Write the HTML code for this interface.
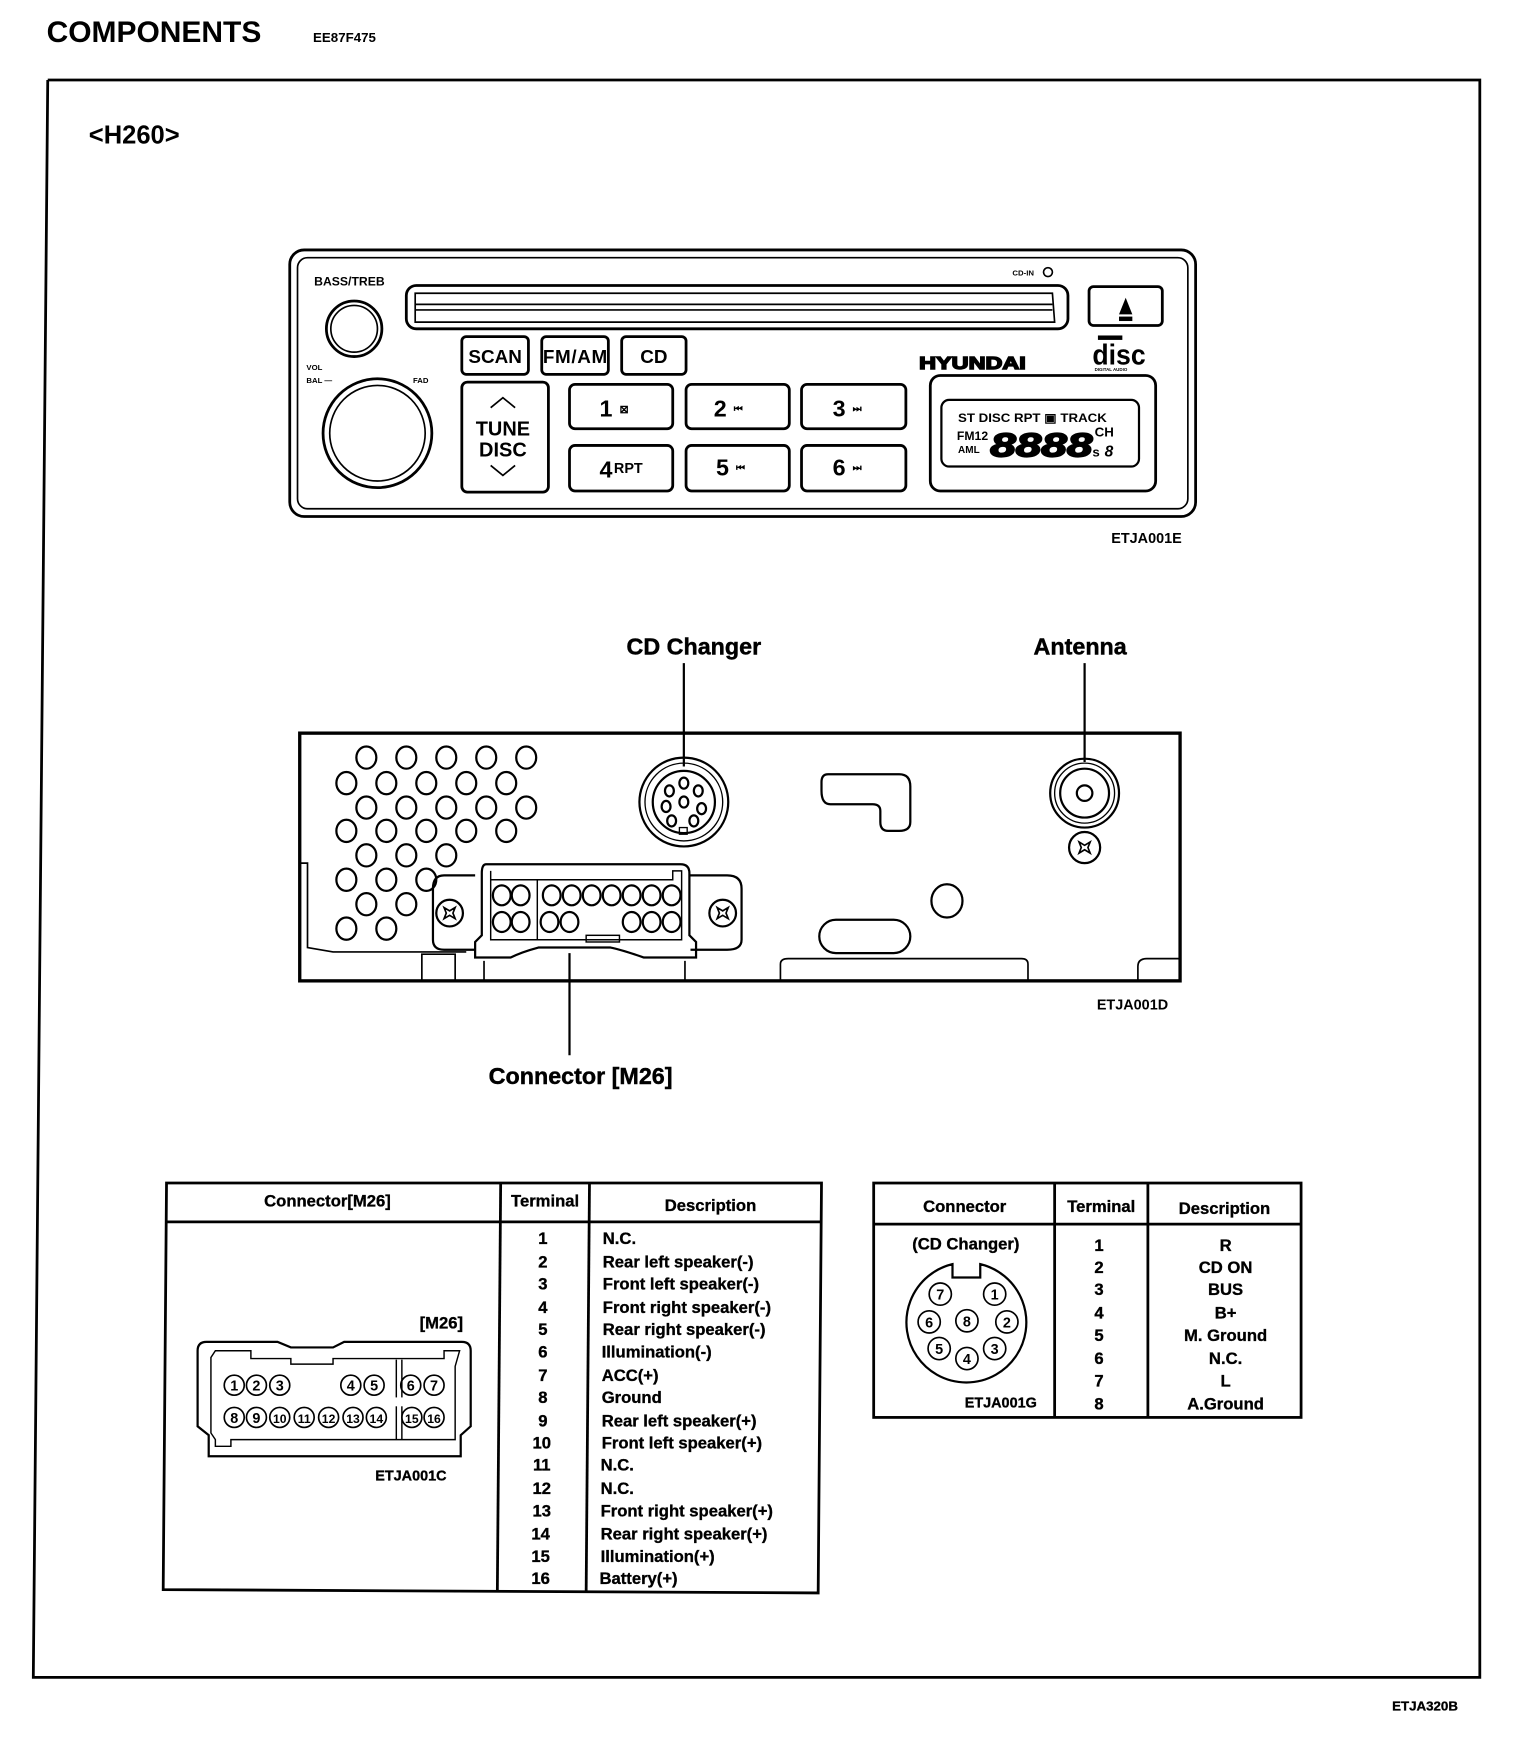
<!DOCTYPE html>
<html><head><meta charset="utf-8"><style>
html,body{margin:0;padding:0;background:#fff;}
svg{display:block;}
text{font-family:"Liberation Sans",Arial,sans-serif;font-weight:bold;fill:#000;}
</style></head><body>
<svg width="1520" height="1742" viewBox="0 0 1369.2 1568.2" preserveAspectRatio="none" xmlns="http://www.w3.org/2000/svg">
<rect x="0" y="0" width="1400" height="1600" fill="#fff"/>
<!-- header -->
<text x="42" y="38" font-size="27">COMPONENTS</text>
<text x="282" y="38" font-size="12">EE87F475</text>
<polyline points="43,72 1333,72 1333,1510 30,1510 43,72" fill="none" stroke="#000" stroke-width="2.5"/>
<text x="80" y="129" font-size="23">&lt;H260&gt;</text>

<!-- radio -->
<g fill="none" stroke="#000" stroke-width="2.5">
<rect x="261" y="225" width="816" height="240" rx="13"/>
<rect x="268" y="232" width="802" height="226" rx="9" stroke-width="1.5"/>
<rect x="366" y="257" width="596" height="39" rx="9"/>
<path d="M374,264 L948,264 L950,290 L374,290 Z" stroke-width="1.5"/>
<line x1="374" y1="274" x2="948" y2="274" stroke-width="1.5"/>
<line x1="374" y1="279" x2="948" y2="279" stroke-width="1.5"/>
<rect x="981" y="258" width="66" height="35" rx="4"/>
<circle cx="319" cy="296" r="25"/>
<circle cx="319" cy="296" r="21" stroke-width="1.5"/>
<circle cx="340" cy="390" r="49"/>
<circle cx="340" cy="390" r="43" stroke-width="1.5"/>
<rect x="416" y="303" width="60" height="34" rx="4"/>
<rect x="488" y="303" width="60" height="34" rx="4"/>
<rect x="560" y="303" width="58" height="34" rx="4"/>
<rect x="416" y="344" width="78" height="99" rx="5"/>
<rect x="513" y="346" width="93" height="40" rx="5"/>
<rect x="618" y="346" width="93" height="40" rx="5"/>
<rect x="722" y="346" width="94" height="40" rx="5"/>
<rect x="513" y="401" width="93" height="41" rx="5"/>
<rect x="618" y="401" width="93" height="41" rx="5"/>
<rect x="722" y="401" width="94" height="41" rx="5"/>
<rect x="838" y="338" width="203" height="104" rx="9"/>
<rect x="848" y="360" width="178" height="60" rx="7" stroke-width="2"/>
<circle cx="944" cy="245" r="4" stroke-width="1.5"/>
<polyline points="442,367 453,358 464,367" stroke-width="1.5"/>
<polyline points="442,419 453,428 464,419" stroke-width="1.5"/>
</g>
<path d="M1008,283 L1014,268 L1020,283 Z" fill="#000"/>
<rect x="1008" y="285" width="12" height="4" fill="#000"/>
<text x="283" y="257" font-size="11">BASS/TREB</text>
<text x="276" y="333" font-size="7">VOL</text>
<text x="276" y="345" font-size="7">BAL —</text>
<text x="372" y="345" font-size="7">FAD</text>
<text x="912" y="248" font-size="7">CD-IN</text>
<text x="446" y="327" font-size="17" font-weight="normal" text-anchor="middle">SCAN</text>
<text x="518" y="327" font-size="17" font-weight="normal" text-anchor="middle" textLength="58">FM/AM</text>
<text x="589" y="327" font-size="17" font-weight="normal" text-anchor="middle">CD</text>
<text x="453" y="392" font-size="18" font-weight="normal" text-anchor="middle">TUNE</text>
<text x="453" y="411" font-size="18" font-weight="normal" text-anchor="middle">DISC</text>
<text x="540" y="375" font-size="21" font-weight="normal">1</text><text x="558" y="372" font-size="10">⊠</text>
<text x="643" y="375" font-size="21" font-weight="normal">2</text><text x="661" y="371" font-size="9">⏮</text>
<text x="750" y="375" font-size="21" font-weight="normal">3</text><text x="768" y="371" font-size="9">⏭</text>
<text x="540" y="430" font-size="21" font-weight="normal">4</text><text x="553" y="426" font-size="13" font-weight="normal">RPT</text>
<text x="645" y="428" font-size="21" font-weight="normal">5</text><text x="663" y="424" font-size="9">⏮</text>
<text x="750" y="428" font-size="21" font-weight="normal">6</text><text x="768" y="424" font-size="9">⏭</text>
<text x="828" y="332" font-size="16" fill="#fff" stroke="#000" stroke-width="1.3" textLength="96" lengthAdjust="spacingAndGlyphs">HYUNDAI</text>
<text x="984" y="328" font-size="26" textLength="48" lengthAdjust="spacingAndGlyphs">disc</text>
<rect x="989" y="302" width="22" height="4" fill="#000"/>
<text x="986" y="334" font-size="4">DIGITAL AUDIO</text>
<text x="863" y="380" font-size="11" textLength="134" lengthAdjust="spacingAndGlyphs">ST DISC RPT ▣ TRACK</text>
<text x="862" y="396" font-size="11">FM12</text>
<text x="863" y="408" font-size="9">AML</text>
<text x="892" y="411" font-size="30" font-style="italic" font-weight="normal" fill="#fff" stroke="#000" stroke-width="1.5" textLength="92" lengthAdjust="spacingAndGlyphs">8888</text>
<text x="986" y="393" font-size="12">CH</text>
<text x="984" y="411" font-size="12">s</text><text x="995" y="411" font-size="14" font-style="italic">8</text>
<text x="1001" y="489" font-size="13">ETJA001E</text>

<!-- labels & leaders -->
<text x="625" y="589" font-size="21" text-anchor="middle" font-weight="normal" stroke="#000" stroke-width="0.4">CD Changer</text>
<text x="973" y="589" font-size="21" text-anchor="middle" font-weight="normal" stroke="#000" stroke-width="0.4">Antenna</text>
<line x1="616" y1="597" x2="616" y2="690" stroke="#000" stroke-width="2"/>
<line x1="977" y1="597" x2="977" y2="686" stroke="#000" stroke-width="2"/>
<line x1="513" y1="858" x2="513" y2="950" stroke="#000" stroke-width="2"/>
<text x="523" y="976" font-size="21" text-anchor="middle" font-weight="normal" stroke="#000" stroke-width="0.4">Connector [M26]</text>

<!-- rear panel -->
<g fill="none" stroke="#000" stroke-width="2">
<rect x="270" y="660" width="793" height="223" stroke-width="3"/>
<g>
<ellipse cx="330" cy="682" rx="9" ry="10"/><ellipse cx="366" cy="682" rx="9" ry="10"/><ellipse cx="402" cy="682" rx="9" ry="10"/><ellipse cx="438" cy="682" rx="9" ry="10"/><ellipse cx="474" cy="682" rx="9" ry="10"/>
<ellipse cx="312" cy="705" rx="9" ry="10"/><ellipse cx="348" cy="705" rx="9" ry="10"/><ellipse cx="384" cy="705" rx="9" ry="10"/><ellipse cx="420" cy="705" rx="9" ry="10"/><ellipse cx="456" cy="705" rx="9" ry="10"/>
<ellipse cx="330" cy="727" rx="9" ry="10"/><ellipse cx="366" cy="727" rx="9" ry="10"/><ellipse cx="402" cy="727" rx="9" ry="10"/><ellipse cx="438" cy="727" rx="9" ry="10"/><ellipse cx="474" cy="727" rx="9" ry="10"/>
<ellipse cx="312" cy="748" rx="9" ry="10"/><ellipse cx="348" cy="748" rx="9" ry="10"/><ellipse cx="384" cy="748" rx="9" ry="10"/><ellipse cx="420" cy="748" rx="9" ry="10"/><ellipse cx="456" cy="748" rx="9" ry="10"/>
<ellipse cx="330" cy="770" rx="9" ry="10"/><ellipse cx="366" cy="770" rx="9" ry="10"/><ellipse cx="402" cy="770" rx="9" ry="10"/>
<ellipse cx="312" cy="792" rx="9" ry="10"/><ellipse cx="348" cy="792" rx="9" ry="10"/><ellipse cx="384" cy="792" rx="9" ry="10"/>
<ellipse cx="330" cy="814" rx="9" ry="10"/><ellipse cx="366" cy="814" rx="9" ry="10"/>
<ellipse cx="312" cy="836" rx="9" ry="10"/><ellipse cx="348" cy="836" rx="9" ry="10"/>
</g>
<circle cx="616" cy="722" r="40"/><circle cx="616" cy="722" r="35" stroke-width="1.2"/><circle cx="616" cy="722" r="28"/>
<ellipse cx="616" cy="705" rx="4" ry="5"/><ellipse cx="603" cy="712" rx="4" ry="5"/><ellipse cx="629" cy="712" rx="4" ry="5"/><ellipse cx="616" cy="722" rx="4" ry="5"/><ellipse cx="600" cy="726" rx="4" ry="5"/><ellipse cx="632" cy="728" rx="4" ry="5"/><ellipse cx="605" cy="739" rx="4" ry="5"/><ellipse cx="625" cy="739" rx="4" ry="5"/>
<rect x="612" y="745" width="7" height="6" stroke-width="1.2"/>
<circle cx="977" cy="714" r="31"/><circle cx="977" cy="714" r="27" stroke-width="1.2"/><circle cx="977" cy="714" r="22"/><circle cx="977" cy="714" r="7"/>
<circle cx="977" cy="763" r="14"/>
<path d="M972,758 l5,3 l5,-3 l-2,5 l2,5 l-5,-3 l-5,3 l2,-5 Z" stroke-width="1.5"/>
<path d="M746,697 L810,697 Q820,697 820,708 L820,740 Q820,748 810,748 L800,748 Q793,748 793,740 L793,730 Q793,724 786,724 L748,724 Q740,724 740,712 L740,704 Q740,697 746,697 Z"/>
<rect x="738" y="828" width="82" height="30" rx="15"/>
<ellipse cx="853" cy="811" rx="14" ry="15"/>
<path d="M400,788 L428,788 M622,788 L655,788 Q668,788 668,800 L668,846 Q668,855 655,855 L622,855 M428,855 L400,855 Q390,855 390,846 L390,800 Q390,788 400,788"/>
<circle cx="405" cy="822" r="12"/><circle cx="651" cy="822" r="12"/>
<path d="M400,817 l5,3 l5,-3 l-2,5 l2,5 l-5,-3 l-5,3 l2,-5 Z M646,817 l5,3 l5,-3 l-2,5 l2,5 l-5,-3 l-5,3 l2,-5 Z" stroke-width="1.5"/>
<path d="M438,778 L613,778 Q621,778 621,786 L621,842 L627,848 L627,862 L580,862 Q560,855 550,853 L485,853 Q470,857 460,862 L428,862 L428,848 L434,842 L434,786 Q434,778 438,778 Z"/>
<path d="M442,784 L442,792 L606,792 L606,784 L614,784 L614,846 L442,846 L442,792" stroke-width="1.3"/>
<line x1="484" y1="792" x2="484" y2="846" stroke-width="1.3"/>
<rect x="528" y="842" width="30" height="6" stroke-width="1.3"/>
<ellipse cx="452" cy="806" rx="8" ry="9"/><ellipse cx="469" cy="806" rx="8" ry="9"/>
<ellipse cx="497" cy="806" rx="8" ry="9"/><ellipse cx="515" cy="806" rx="8" ry="9"/><ellipse cx="533" cy="806" rx="8" ry="9"/><ellipse cx="551" cy="806" rx="8" ry="9"/><ellipse cx="569" cy="806" rx="8" ry="9"/><ellipse cx="587" cy="806" rx="8" ry="9"/><ellipse cx="605" cy="806" rx="8" ry="9"/>
<ellipse cx="452" cy="830" rx="8" ry="9"/><ellipse cx="469" cy="830" rx="8" ry="9"/>
<ellipse cx="495" cy="830" rx="8" ry="9"/><ellipse cx="513" cy="830" rx="8" ry="9"/>
<ellipse cx="569" cy="830" rx="8" ry="9"/><ellipse cx="587" cy="830" rx="8" ry="9"/><ellipse cx="605" cy="830" rx="8" ry="9"/>
<polyline points="270,777 277,777 277,853 300,857 420,857" stroke-width="1.5"/>
<polyline points="380,883 380,859 410,859 410,883" stroke-width="1.5"/>
<line x1="436" y1="865" x2="436" y2="883" stroke-width="1.5"/>
<line x1="617" y1="865" x2="617" y2="883" stroke-width="1.5"/>
<path d="M703,883 L703,868 Q703,863 710,863 L920,863 Q926,863 926,868 L926,883" stroke-width="1.5"/>
<path d="M1025,883 L1025,870 Q1025,863 1033,863 L1063,863" stroke-width="1.5"/>
</g>
<text x="988" y="909" font-size="13">ETJA001D</text>

<!-- left table -->
<g fill="none" stroke="#000" stroke-width="2.5">
<polygon points="150,1065 740,1065 737,1434 147,1431"/>
<line x1="150" y1="1100" x2="740" y2="1100"/>
<line x1="451" y1="1065" x2="448" y2="1432"/>
<line x1="531" y1="1065" x2="528" y2="1433"/>
</g>
<text x="295" y="1086" font-size="15" text-anchor="middle" font-weight="normal" stroke="#000" stroke-width="0.3">Connector[M26]</text>
<text x="491" y="1086" font-size="15" text-anchor="middle" font-weight="normal" stroke="#000" stroke-width="0.3">Terminal</text>
<text x="640" y="1090" font-size="15" text-anchor="middle" font-weight="normal" stroke="#000" stroke-width="0.3">Description</text>
<g font-size="15" font-weight="normal" stroke="#000" stroke-width="0.3">
<text x="489" y="1120" text-anchor="middle">1</text><text x="543" y="1120">N.C.</text>
<text x="489" y="1141" text-anchor="middle">2</text><text x="543" y="1141">Rear left speaker(-)</text>
<text x="489" y="1161" text-anchor="middle">3</text><text x="543" y="1161">Front left speaker(-)</text>
<text x="489" y="1182" text-anchor="middle">4</text><text x="543" y="1182">Front right speaker(-)</text>
<text x="489" y="1202" text-anchor="middle">5</text><text x="543" y="1202">Rear right speaker(-)</text>
<text x="489" y="1222" text-anchor="middle">6</text><text x="542" y="1222">Illumination(-)</text>
<text x="489" y="1243" text-anchor="middle">7</text><text x="542" y="1243">ACC(+)</text>
<text x="489" y="1263" text-anchor="middle">8</text><text x="542" y="1263">Ground</text>
<text x="489" y="1284" text-anchor="middle">9</text><text x="542" y="1284">Rear left speaker(+)</text>
<text x="488" y="1304" text-anchor="middle">10</text><text x="542" y="1304">Front left speaker(+)</text>
<text x="488" y="1324" text-anchor="middle">11</text><text x="541" y="1324">N.C.</text>
<text x="488" y="1345" text-anchor="middle">12</text><text x="541" y="1345">N.C.</text>
<text x="488" y="1365" text-anchor="middle">13</text><text x="541" y="1365">Front right speaker(+)</text>
<text x="487" y="1386" text-anchor="middle">14</text><text x="541" y="1386">Rear right speaker(+)</text>
<text x="487" y="1406" text-anchor="middle">15</text><text x="541" y="1406">Illumination(+)</text>
<text x="487" y="1426" text-anchor="middle">16</text><text x="540" y="1426">Battery(+)</text>
</g>
<text x="378" y="1196" font-size="15" font-weight="normal" stroke="#000" stroke-width="0.3">[M26]</text>
<g fill="none" stroke="#000" stroke-width="2">
<path d="M186,1208 L250,1208 L262,1213 L300,1213 L310,1208 L416,1208 Q424,1208 424,1216 L424,1284 L415,1292 L415,1311 L188,1311 L188,1292 L178,1284 L178,1216 Q178,1208 186,1208 Z"/>
<path d="M194,1216 L226,1216 L226,1223 L262,1223 L262,1228 L300,1228 L300,1223 L400,1223 L400,1216 L414,1216 L410,1230 L410,1296 L208,1296 L208,1302 L194,1302 L194,1296 L190,1290 L190,1222 Z" stroke-width="1.3"/>
<line x1="357" y1="1224" x2="357" y2="1258" stroke-width="1.3"/><line x1="362" y1="1224" x2="362" y2="1258" stroke-width="1.3"/>
<line x1="357" y1="1266" x2="357" y2="1296" stroke-width="1.3"/><line x1="362" y1="1266" x2="362" y2="1296" stroke-width="1.3"/>
</g>
<g fill="none" stroke="#000" stroke-width="1.5">
<circle cx="211" cy="1247" r="9"/><circle cx="231" cy="1247" r="9"/><circle cx="252" cy="1247" r="9"/><circle cx="316" cy="1247" r="9"/><circle cx="337" cy="1247" r="9"/><circle cx="370" cy="1247" r="9"/><circle cx="391" cy="1247" r="9"/>
<circle cx="211" cy="1276" r="9"/><circle cx="231" cy="1276" r="9"/><circle cx="252" cy="1276" r="9"/><circle cx="274" cy="1276" r="9"/><circle cx="296" cy="1276" r="9"/><circle cx="318" cy="1276" r="9"/><circle cx="339" cy="1276" r="9"/><circle cx="371" cy="1276" r="9"/><circle cx="391" cy="1276" r="9"/>
</g>
<g font-size="13" text-anchor="middle">
<text x="211" y="1252">1</text><text x="231" y="1252">2</text><text x="252" y="1252">3</text><text x="316" y="1252">4</text><text x="337" y="1252">5</text><text x="370" y="1252">6</text><text x="391" y="1252">7</text>
<text x="211" y="1281">8</text><text x="231" y="1281">9</text><text x="252" y="1281" font-size="11">10</text><text x="274" y="1281" font-size="11">11</text><text x="296" y="1281" font-size="11">12</text><text x="318" y="1281" font-size="11">13</text><text x="339" y="1281" font-size="11">14</text><text x="371" y="1281" font-size="11">15</text><text x="391" y="1281" font-size="11">16</text>
</g>
<text x="338" y="1333" font-size="13" font-weight="normal" stroke="#000" stroke-width="0.3">ETJA001C</text>

<!-- right table -->
<g fill="none" stroke="#000" stroke-width="2.5">
<rect x="787" y="1065" width="385" height="211"/>
<line x1="787" y1="1102" x2="1172" y2="1102"/>
<line x1="950" y1="1065" x2="950" y2="1276"/>
<line x1="1034" y1="1065" x2="1034" y2="1276"/>
</g>
<g font-size="15" font-weight="normal" stroke="#000" stroke-width="0.3" text-anchor="middle">
<text x="869" y="1091">Connector</text><text x="992" y="1091">Terminal</text><text x="1103" y="1093">Description</text>
<text x="870" y="1125">(CD Changer)</text>
<text x="990" y="1126">1</text><text x="1104" y="1126">R</text>
<text x="990" y="1146">2</text><text x="1104" y="1146">CD ON</text>
<text x="990" y="1166">3</text><text x="1104" y="1166">BUS</text>
<text x="990" y="1187">4</text><text x="1104" y="1187">B+</text>
<text x="990" y="1207">5</text><text x="1104" y="1207">M. Ground</text>
<text x="990" y="1228">6</text><text x="1104" y="1228">N.C.</text>
<text x="990" y="1248">7</text><text x="1104" y="1248">L</text>
<text x="990" y="1269">8</text><text x="1104" y="1269">A.Ground</text>
</g>
<path d="M858,1138 A54,54 0 1 0 883,1138 L883,1150 L858,1150 Z" fill="none" stroke="#000" stroke-width="2"/>
<g fill="none" stroke="#000" stroke-width="1.5">
<circle cx="847" cy="1165" r="10"/><circle cx="896" cy="1165" r="10"/><circle cx="837" cy="1190" r="10"/><circle cx="871" cy="1189" r="10"/><circle cx="907" cy="1190" r="10"/><circle cx="846" cy="1214" r="10"/><circle cx="871" cy="1223" r="10"/><circle cx="896" cy="1214" r="10"/>
</g>
<g font-size="13" text-anchor="middle">
<text x="847" y="1170">7</text><text x="896" y="1170">1</text><text x="837" y="1195">6</text><text x="871" y="1194">8</text><text x="907" y="1195">2</text><text x="846" y="1219">5</text><text x="871" y="1228">4</text><text x="896" y="1219">3</text>
</g>
<text x="869" y="1267" font-size="13" font-weight="normal" stroke="#000" stroke-width="0.3">ETJA001G</text>

<text x="1254" y="1540" font-size="12" font-weight="normal" stroke="#000" stroke-width="0.3">ETJA320B</text>
</svg>
</body></html>
